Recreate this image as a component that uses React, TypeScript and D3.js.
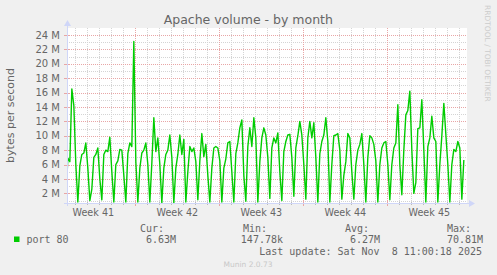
import React from "react";
import * as d3 from "d3";

const title = "Apache volume - by month";
const yAxisTitle = "bytes per second";
const seriesName = "port 80";
// first sample time (UTC) and sampling step
const seriesStart = Date.UTC(2025, 9, 6, 5);
const stepHours = 4;
// bytes per second, in millions, one value every 4 hours
const volumeM = [
  0.8, 6.9, 6.4, 16.5, 14.2,
  6.0, 0.8, 5.8, 7.4, 7.6, 9.0,
  5.5, 1.0, 2.6, 7.0, 7.4, 8.3,
  4.0, 1.1, 7.4, 8.0, 7.8, 9.8,
  5.0, 0.8, 6.0, 6.5, 8.1, 8.0,
  4.5, 0.8, 7.5, 9.0, 8.5, 23.1,
  6.4, 0.8, 5.5, 7.6, 8.0, 9.0,
  6.0, 0.8, 6.2, 12.5, 7.8, 9.7,
  6.0, 0.7, 5.5, 7.4, 8.0, 10.1,
  7.0, 0.7, 5.5, 7.4, 10.1, 7.4,
  9.5, 0.8, 5.0, 8.5, 7.8, 8.3,
  6.4, 1.1, 6.5, 10.3, 7.1, 8.8,
  4.5, 0.8, 5.5, 8.3, 8.5, 8.3,
  6.5, 0.8, 5.5, 6.8, 9.0, 9.2,
  5.0, 0.8, 7.5, 9.0, 11.1, 12.2,
  4.5, 0.9, 8.5, 11.1, 8.5, 12.5,
  9.7, 0.8, 6.4, 9.7, 11.1, 10.1,
  7.0, 1.3, 8.3, 9.7, 9.0, 10.4,
  5.0, 1.0, 7.8, 9.2, 10.1, 10.2,
  7.0, 1.6, 8.3, 10.0, 12.0, 10.1,
  6.0, 1.2, 9.7, 12.0, 9.7, 11.8,
  7.0, 0.8, 7.5, 9.2, 10.1, 12.5,
  9.2, 0.8, 6.0, 10.0, 10.1, 10.3,
  8.0, 1.2, 4.5, 6.4, 10.3, 9.7,
  5.0, 1.2, 6.0, 8.0, 8.8, 10.3,
  6.0, 0.8, 7.0, 10.0, 9.7, 8.8,
  6.5, 0.8, 6.0, 8.3, 9.0, 9.2,
  6.0, 1.1, 6.0, 8.3, 9.0, 14.3,
  6.0, 1.8, 8.0, 12.9, 13.5, 16.2,
  8.0, 2.0, 3.5, 11.0, 11.1, 15.0,
  8.0, 0.8, 8.5, 9.7, 12.7, 9.7,
  9.2, 0.8, 6.0, 10.0, 14.5, 10.2,
  6.0, 0.8, 6.0, 8.1, 7.8, 9.2,
  8.3, 1.2, 6.63,
];
// time window of the graph (UTC)
const windowStart = Date.UTC(2025, 9, 6, 7, 20);
const windowEnd = Date.UTC(2025, 10, 8, 15, 20);
const yDomain = [0.66, 24.96];
const yMinorTicks = d3.range(1, 25, 1);
const yMajorTicks = [2, 4, 6, 8, 10, 12, 14, 16, 18, 20, 22, 24];
const legendHeaders = ["Cur:", "Min:", "Avg:", "Max:"];
const legendValues = ["6.63M", "147.78k", "6.27M", "70.81M"];
const lastUpdate = "Last update: Sat Nov  8 11:00:18 2025";
const watermark = "RRDTOOL / TOBI OETIKER";
const footer = "Munin 2.0.73";

const W = 497;
const H = 275;
const plot = { left: 67, right: 467, top: 28, bottom: 203 };
const FONT = "'DejaVu Sans', sans-serif";
const MONO = "'DejaVu Sans Mono', monospace";
const FONT_COLOR = "#666666";
const AXIS_COLOR = "#CFD6F8";
const MINOR_GRID = "#d4d4d4";
const MAJOR_GRID = "#e8a6a6";
const LINE_COLOR = "#00cc00";

export default function App() {
  const x = d3.scaleUtc().domain([new Date(windowStart), new Date(windowEnd)]).range([plot.left, plot.right]);
  const y = d3.scaleLinear().domain(yDomain).range([plot.bottom, plot.top]);
  const data = volumeM.map((v, i) => ({ t: new Date(seriesStart + i * stepHours * 3600 * 1000), v }));
  const line = d3
    .line<{ t: Date; v: number }>()
    .x((d) => x(d.t))
    .y((d) => y(d.v));
  const days = d3.utcDay.range(new Date(windowStart), new Date(windowEnd));
  const weeks = d3.utcSunday.range(new Date(windowStart - 7 * 864e5), new Date(windowEnd));
  const weekFmt = d3.utcFormat("%V");
  const weekMids = weeks
    .map((w) => new Date(+w + 3.5 * 864e5))
    .filter((m) => x(m) > plot.left - 20 && x(m) < plot.right + 5);

  const legendCols = [140, 243, 345, 447];
  const legendValueEnds = [176, 283, 380, 483];

  return (
    <svg
      width={W}
      height={H}
      style={{ position: "fixed", left: 0, top: 0, background: "#F0F0F0" }}
      xmlns="http://www.w3.org/2000/svg"
    >
      <rect x={0} y={0} width={W} height={H} fill="#F0F0F0" />
      <defs>
        <clipPath id="plotclip">
          <rect x={plot.left} y={plot.top} width={plot.right - plot.left} height={plot.bottom - plot.top} />
        </clipPath>
      </defs>
      <rect x={plot.left} y={plot.top} width={plot.right - plot.left} height={plot.bottom - plot.top} fill="#ffffff" />

      {/* minor grid */}
      {yMinorTicks
        .filter((t) => yMajorTicks.indexOf(t) < 0)
        .map((t) => (
          <line key={"ym" + t} x1={plot.left} x2={plot.right} y1={Math.round(y(t)) + 0.5} y2={Math.round(y(t)) + 0.5}
            stroke={MINOR_GRID} strokeDasharray="1,1" />
        ))}
      {days
        .filter((d) => d.getUTCDay() !== 0)
        .map((d) => (
          <line key={"xm" + +d} x1={Math.round(x(d)) + 0.5} x2={Math.round(x(d)) + 0.5} y1={plot.top} y2={plot.bottom}
            stroke={MINOR_GRID} strokeDasharray="1,1" />
        ))}
      {/* major grid */}
      {yMajorTicks.map((t) => (
        <line key={"yM" + t} x1={plot.left} x2={plot.right} y1={Math.round(y(t)) + 0.5} y2={Math.round(y(t)) + 0.5}
          stroke={MAJOR_GRID} strokeDasharray="1,1" />
      ))}
      {weeks
        .filter((w) => x(w) > plot.left && x(w) < plot.right)
        .map((w) => (
          <line key={"xM" + +w} x1={Math.round(x(w)) + 0.5} x2={Math.round(x(w)) + 0.5} y1={plot.top} y2={plot.bottom}
            stroke={MAJOR_GRID} strokeDasharray="1,1" />
        ))}

      {/* data */}
      <path d={line(data) || ""} fill="none" stroke={LINE_COLOR} strokeWidth={1.4} strokeLinejoin="round"
        clipPath="url(#plotclip)" />

      {/* ticks */}
      {days
        .filter((d) => d.getUTCDay() !== 0)
        .map((d) => (
          <line key={"xt" + +d} x1={Math.round(x(d)) + 0.5} x2={Math.round(x(d)) + 0.5} y1={plot.bottom - 1} y2={plot.bottom + 2}
            stroke="#bbbbbb" />
        ))}
      {weeks
        .filter((w) => x(w) > plot.left && x(w) < plot.right)
        .map((w) => (
          <line key={"xT" + +w} x1={Math.round(x(w)) + 0.5} x2={Math.round(x(w)) + 0.5} y1={plot.bottom - 2} y2={plot.bottom + 3}
            stroke={MAJOR_GRID} />
        ))}
      {yMajorTicks.map((t) => (
        <line key={"yT" + t} x1={plot.left - 3} x2={plot.left + 2} y1={Math.round(y(t)) + 0.5} y2={Math.round(y(t)) + 0.5}
          stroke={MAJOR_GRID} />
      ))}

      {/* axes */}
      <line x1={plot.left - 3} x2={plot.right + 3} y1={plot.bottom + 0.5} y2={plot.bottom + 0.5} stroke={AXIS_COLOR} />
      <line x1={plot.left + 0.5} x2={plot.left + 0.5} y1={plot.bottom + 3} y2={plot.top - 3} stroke={AXIS_COLOR} />
      <path d={`M${plot.right + 2},${plot.bottom - 3} L${plot.right + 8},${plot.bottom + 0.5} L${plot.right + 2},${plot.bottom + 4} Z`} fill={AXIS_COLOR} />
      <path d={`M${plot.left - 3},${plot.top - 2} L${plot.left + 0.5},${plot.top - 8} L${plot.left + 4},${plot.top - 2} Z`} fill={AXIS_COLOR} />

      {/* y labels */}
      {yMajorTicks.map((t) => (
        <text key={"yl" + t} x={60} y={y(t) + 3.6} textAnchor="end" fontFamily={FONT} fontSize={10} fill={FONT_COLOR}>
          {t} M
        </text>
      ))}
      {/* x labels */}
      {weekMids.map((m) => (
        <text key={"wl" + +m} x={x(m)} y={216} textAnchor="middle" fontFamily={FONT} fontSize={9.6} fill={FONT_COLOR}>
          {"Week " + weekFmt(m)}
        </text>
      ))}

      <text x={248.3} y={24} textAnchor="middle" fontFamily={FONT} fontSize={12.5} fill={FONT_COLOR}>
        {title}
      </text>
      <text transform={`translate(13.5, ${(plot.top + plot.bottom) / 2}) rotate(-90)`} textAnchor="middle"
        fontFamily={FONT} fontSize={11} fill={FONT_COLOR}>
        {yAxisTitle}
      </text>
      <text transform="translate(484.5, 5) rotate(90)" textAnchor="start" fontFamily={FONT} fontSize={7.5} fill="#cccccc">
        {watermark}
      </text>

      {/* legend */}
      {legendHeaders.map((h, i) => (
        <text key={"lh" + i} x={legendCols[i]} y={231.5} fontFamily={MONO} fontSize={10} fill={FONT_COLOR}>
          {h}
        </text>
      ))}
      <rect x={14} y={236.5} width={5.5} height={5.5} fill={LINE_COLOR} />
      <text x={26.5} y={243} fontFamily={MONO} fontSize={10} fill={FONT_COLOR} style={{ whiteSpace: "pre" }}>
        {seriesName}
      </text>
      {legendValues.map((v, i) => (
        <text key={"lv" + i} x={legendValueEnds[i]} y={243} textAnchor="end" fontFamily={MONO} fontSize={10} fill={FONT_COLOR}>
          {v}
        </text>
      ))}
      <text x={482} y={255} textAnchor="end" fontFamily={MONO} fontSize={10} fill={FONT_COLOR} style={{ whiteSpace: "pre" }}>
        {lastUpdate}
      </text>
      <text x={248} y={267} textAnchor="middle" fontFamily={FONT} fontSize={7.5} fill="#c8c8c8">
        {footer}
      </text>
    </svg>
  );
}
